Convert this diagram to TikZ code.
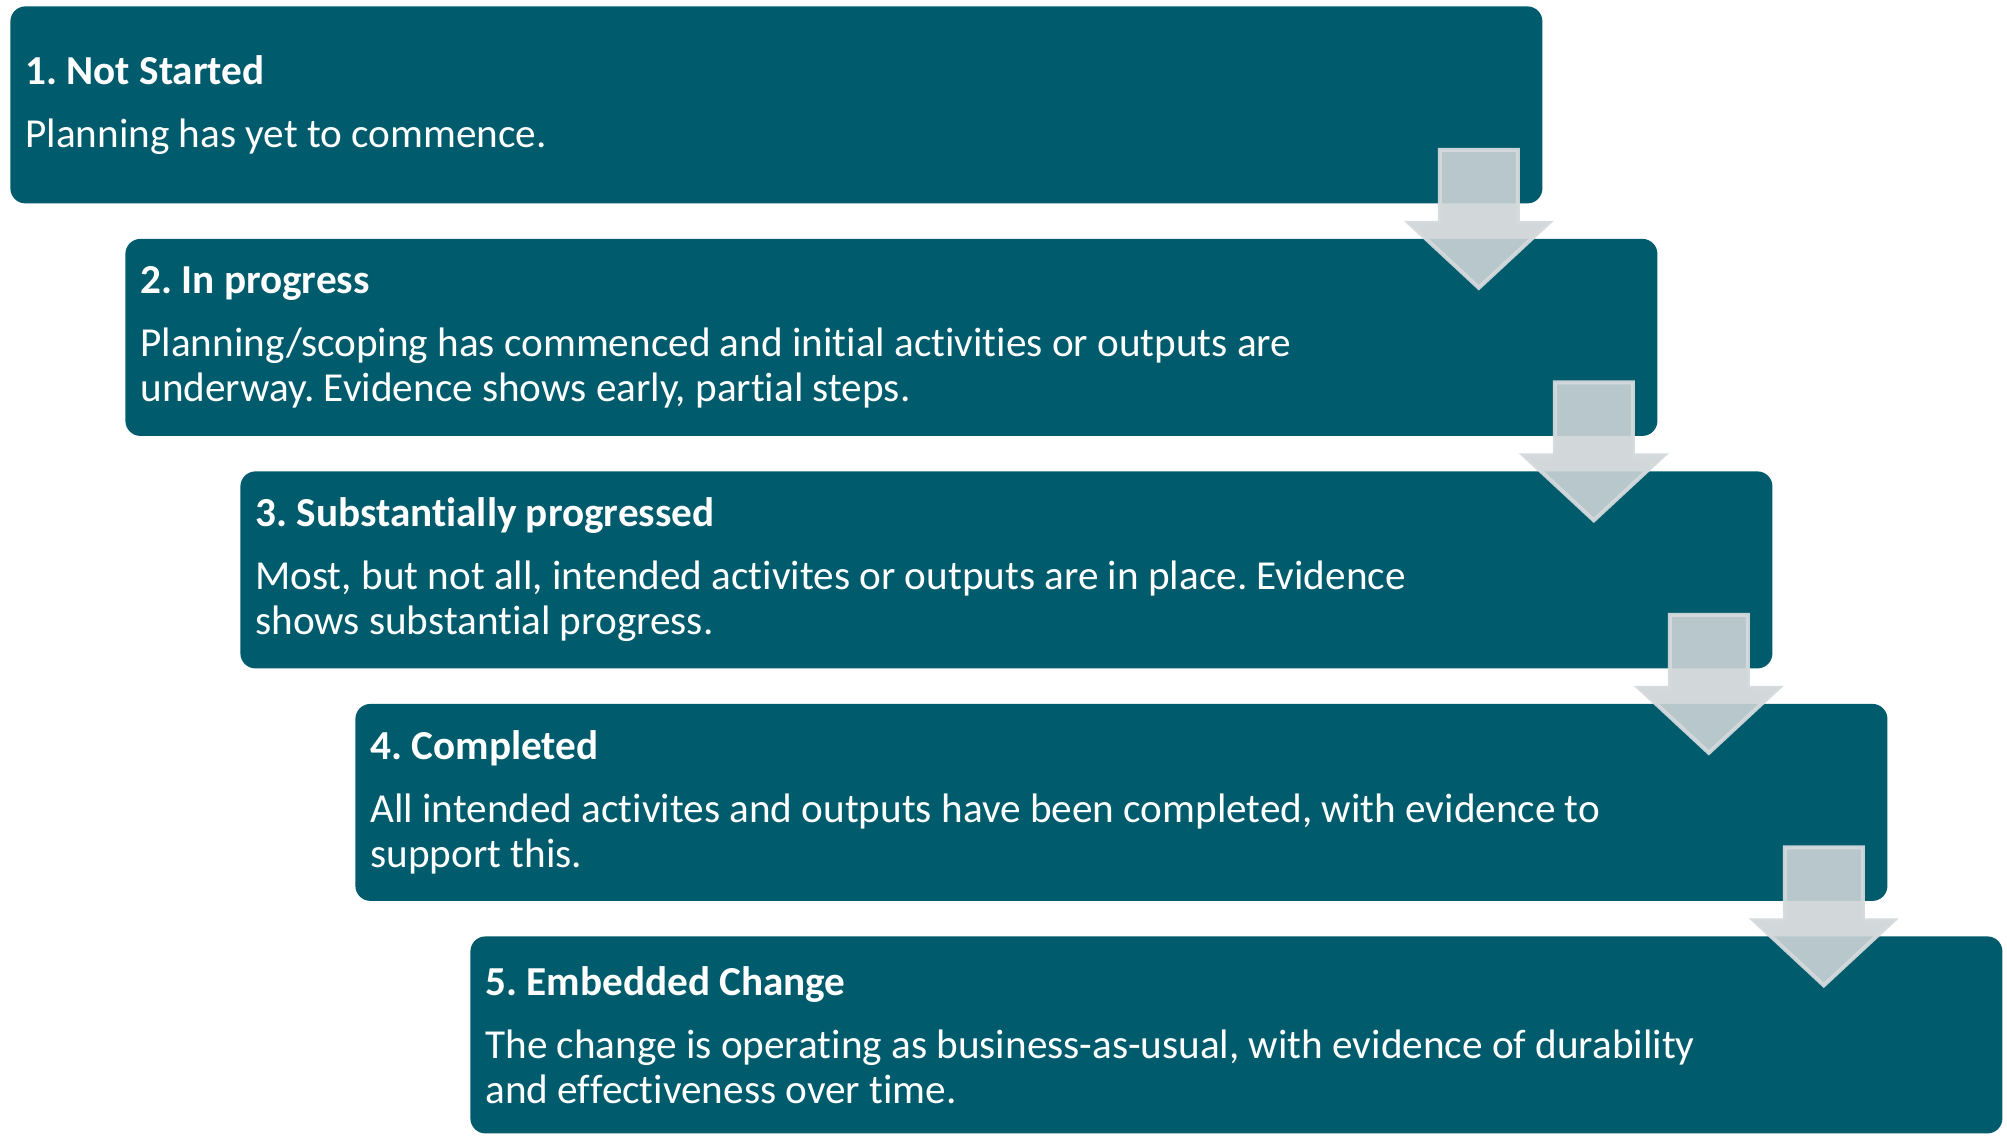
\documentclass[tikz,border=0pt]{standalone}
\usepackage{fontspec}
\setmainfont{Carlito}[Ligatures={NoCommon,NoContextual}, Contextuals=NoAlternate]
\usetikzlibrary{calc}
\definecolor{teal}{RGB}{0,92,108}
\definecolor{arrfill}{RGB}{205,211,214}
\definecolor{arrline}{RGB}{212,217,220}
\newcommand{\nolig}{\kern0pt{}}
\tikzset{
  stagebox/.style={rectangle, rounded corners=7.5pt, fill=teal, draw=none,
    minimum width=766pt, minimum height=98.5pt, anchor=north west, inner sep=0pt},
  stagetext/.style={anchor=west, align=left, inner sep=0pt, text=white,
    font=\fontsize{20.6pt}{22.5pt}\selectfont},
  downarrow/.style={fill=arrfill, fill opacity=0.9, draw=arrline, draw opacity=0.95,
    line width=2pt, line join=miter}
}
\newcommand{\stagearrow}[1]{%
  \draw[downarrow, shift={(#1.south east)}]
    (-103,-54) -- (-25,-54) -- (-25,19) -- (6,19) -- (-64,84)
    -- (-134,19) -- (-103,19) -- cycle;}
\frenchspacing
\begin{document}
\frenchspacing
\begin{tikzpicture}[x=0.5pt,y=-0.5pt]
\useasboundingbox (0,0) rectangle (2007,1141);
\node[stagebox] (b1) at (10,6) {};
\node[stagebox] (b2) at (125,238.5) {};
\node[stagebox] (b3) at (240,471) {};
\node[stagebox] (b4) at (355,703.5) {};
\node[stagebox] (b5) at (470,936) {};
\node[stagetext] (t1) at ([xshift=7.5pt]b1.west) {{\bfseries 1. Not Started}\\[9pt]Planning has yet to commence.};
\node[stagetext] (t2) at ([xshift=7.5pt]b2.west) {{\bfseries 2. In progress}\\[9pt]Planning/scoping has commenced and init\nolig ial act\nolig ivit\nolig ies or outputs are\\underway. Evidence shows early, part\nolig ial steps.};
\node[stagetext] (t3) at ([xshift=7.5pt]b3.west) {{\bfseries 3. Substant\nolig ially progressed}\\[9pt]Most, but not all, intended act\nolig ivites or outputs are in place. Evidence\\shows substant\nolig ial progress.};
\node[stagetext] (t4) at ([xshift=7.5pt]b4.west) {{\bfseries 4. Completed}\\[9pt]All intended act\nolig ivites and outputs have been completed, with evidence to\\support this.};
\node[stagetext] (t5) at ([xshift=7.5pt]b5.west) {{\bfseries 5. Embedded Change}\\[9pt]The change is operat\nolig ing as business-as-usual, with evidence of durability\\and ef\nolig fect\nolig iveness over t\nolig ime.};
\stagearrow{b1}
\stagearrow{b2}
\stagearrow{b3}
\stagearrow{b4}
\end{tikzpicture}
\end{document}
